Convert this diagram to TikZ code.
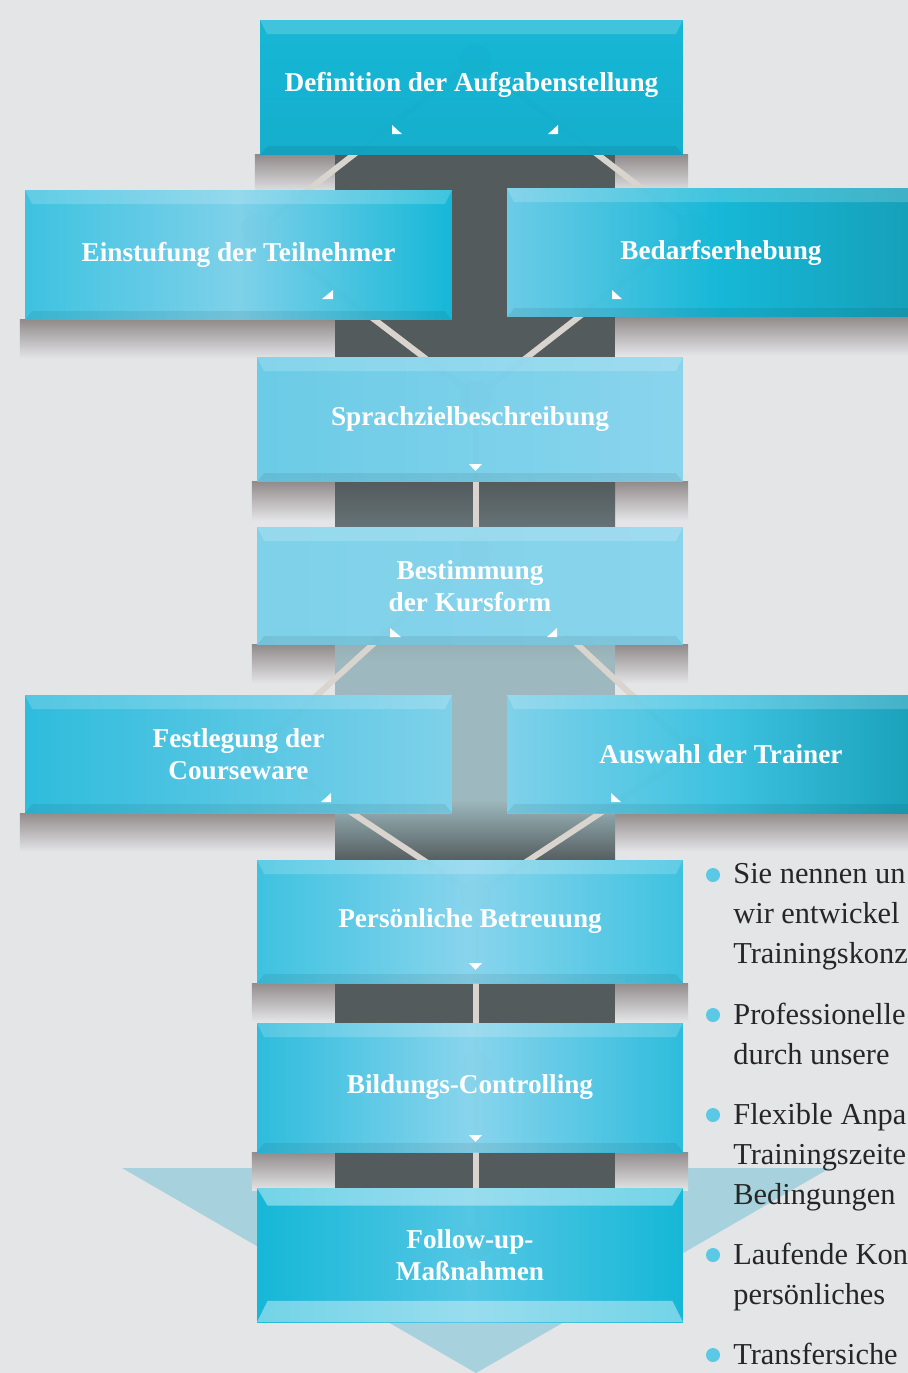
\documentclass[tikz,border=0pt]{standalone}
\usepackage{fontspec}
\setmainfont{Liberation Serif}
\usetikzlibrary{positioning, calc}

\definecolor{bgc}{HTML}{E4E5E7}
\definecolor{bandc}{HTML}{535B5D}
\definecolor{bandlt}{HTML}{9DB8BE}
\definecolor{shd}{HTML}{7E7575}
\definecolor{linec}{HTML}{DAD4CE}
\definecolor{tric}{HTML}{A7D2DD}
\definecolor{bulletc}{HTML}{5BC9E5}
\definecolor{textc}{HTML}{262626}
% box colours
\definecolor{cyantop}{HTML}{00B2D4}
\definecolor{cyanbot}{HTML}{00A9CB}
\definecolor{cyanmid}{HTML}{2CBFE0}
\definecolor{cyanpale}{HTML}{74CFEA}
\definecolor{cyanlight}{HTML}{80D3EE}
\definecolor{cyansky}{HTML}{5FC9E7}
\definecolor{cyandeep}{HTML}{00B3D6}
\definecolor{cyanstrong}{HTML}{1BB8DC}
\definecolor{cyansoft}{HTML}{45C4E4}
\definecolor{tealedge}{HTML}{0096B1}

\pgfdeclarelayer{background}
\pgfdeclarelayer{lines}
\pgfsetlayers{background,lines,main}

\tikzset{
  box/.style={rectangle, inner sep=0pt, outer sep=0pt, minimum width=8.52cm,
    text=white, align=center, font=\fontsize{15.5}{18.5}\selectfont\bfseries,
    fill opacity=0.9, text opacity=1,
    path picture={
      \fill[white, opacity=0.18] (path picture bounding box.north west) -- (path picture bounding box.north east)
        -- ([xshift=-4pt, yshift=-8pt]path picture bounding box.north east) -- ([xshift=4pt, yshift=-8pt]path picture bounding box.north west) -- cycle;
      \fill[black, opacity=0.07] (path picture bounding box.south west) -- (path picture bounding box.south east)
        -- ([xshift=-4pt, yshift=5pt]path picture bounding box.south east) -- ([xshift=4pt, yshift=5pt]path picture bounding box.south west) -- cycle;
    }},
  lastbox/.style={box,
    path picture={
      \fill[white, opacity=0.4] (path picture bounding box.north west) -- (path picture bounding box.north east)
        -- ([xshift=-6pt, yshift=-10pt]path picture bounding box.north east) -- ([xshift=6pt, yshift=-10pt]path picture bounding box.north west) -- cycle;
      \fill[white, opacity=0.4] (path picture bounding box.south west) -- (path picture bounding box.south east)
        -- ([xshift=-6pt, yshift=12pt]path picture bounding box.south east) -- ([xshift=6pt, yshift=12pt]path picture bounding box.south west) -- cycle;
    }},
  link/.style={draw=linec, line width=3.4pt},
  marker/.style={fill=white},
  bullet/.style={circle, fill=bulletc, minimum size=0.28cm, inner sep=0pt},
  item/.style={anchor=north west, inner sep=0pt, align=left, text=textc,
    font=\fontsize{17.3}{22.76}\selectfont},
}

\begin{document}
\begin{tikzpicture}[x=0.02cm, y=-0.02cm]
\useasboundingbox (0,0) rectangle (908,1373);
\begin{scope}
\clip (0,0) rectangle (908,1373);

% steps
\node[box, minimum width=8.46cm, minimum height=2.7cm, top color=cyantop, bottom color=cyanbot] (def) at (471.5,87.5) {\raisebox{6pt}{Definition der Aufgabenstellung}};
\node[box, minimum width=8.54cm, minimum height=2.6cm, left color=cyanmid, right color=cyandeep, middle color=cyanpale] (einst) at (238.5,255) {\raisebox{4pt}{Einstufung der Teilnehmer}};
\node[box, minimum width=8.56cm, minimum height=2.58cm, left color=cyansky, right color=tealedge, middle color=cyandeep] (bedarf) at (721,252.5) {\raisebox{3pt}{Bedarfserhebung}};
\node[box, minimum height=2.5cm, left color=cyansky, right color=cyanlight] (sprach) at (470,419.5) {\raisebox{3pt}{Sprachzielbeschreibung}};
\node[box, minimum height=2.36cm, left color=cyanpale, right color=cyanlight] (bestimm) at (470,586) {Bestimmung\\der Kursform};
\node[box, minimum width=8.54cm, minimum height=2.36cm, left color=cyanstrong, right color=cyanpale] (festleg) at (238.5,754) {Festlegung der\\Courseware};
\node[box, minimum width=8.56cm, minimum height=2.36cm, left color=cyanpale, right color=tealedge, middle color=cyanmid] (auswahl) at (721,754) {Auswahl der Trainer};
\node[box, minimum height=2.46cm, left color=cyanmid, right color=cyanmid, middle color=cyanlight] (persoen) at (470,921.5) {Persönliche Betreuung};
\node[box, minimum height=2.58cm, left color=cyanstrong, right color=cyanstrong, middle color=cyanlight] (bildung) at (470,1087.5) {Bildungs-Controlling};
\node[lastbox, minimum height=2.68cm, left color=cyandeep, right color=cyandeep, middle color=cyansoft] (follow) at (470,1255) {Follow-up-\\Maßnahmen};

% little arrow marks
\fill[marker] (392,125) -- (392,134) -- (402,134) -- cycle;
\fill[marker] (558,125) -- (558,134) -- (548,134) -- cycle;
\fill[marker] (333,290) -- (333,299) -- (322,299) -- cycle;
\fill[marker] (612,290) -- (612,299) -- (622,299) -- cycle;
\fill[marker] (469,464) -- (482,464) -- (475.5,471) -- cycle;
\fill[marker] (390,628) -- (390,637) -- (401,637) -- cycle;
\fill[marker] (557,628) -- (557,637) -- (547,637) -- cycle;
\fill[marker] (331,793) -- (331,802) -- (321,802) -- cycle;
\fill[marker] (611,793) -- (611,802) -- (621,802) -- cycle;
\fill[marker] (469,963) -- (482,963) -- (475.5,970) -- cycle;
\fill[marker] (469,1135) -- (482,1135) -- (475.5,1142) -- cycle;

% list
\node[bullet] (b1) at (713,875) {};
\node[item] (t1) at (733,863) {Sie nennen un\\wir entwickel\\Trainingskonz};
\node[bullet] (b2) at (713,1015) {};
\node[item] (t2) at (733,1003) {Professionelle\\durch unsere};
\node[bullet] (b3) at (713,1115) {};
\node[item] (t3) at (733,1103) {Flexible Anpa\\Trainingszeite\\Bedingungen};
\node[bullet] (b4) at (713,1255) {};
\node[item] (t4) at (733,1243) {Laufende Kon\\persönliches};
\node[bullet] (b5) at (713,1355) {};
\node[item] (t5) at (733,1343) {Transfersiche};
\end{scope}

% joints
\coordinate (jdef) at (475,60);
\coordinate (jein) at (257,230);
\coordinate (jbed) at (693,228);
\coordinate (jspr) at (476,397);
\coordinate (jbes) at (476,550);
\coordinate (jfes) at (257,750);
\coordinate (jaus) at (693,752);
\coordinate (jper) at (476,895);
\coordinate (jbil) at (476,1068);
\coordinate (jfol) at (476,1243);

\begin{pgfonlayer}{lines}
\draw[link] (jdef) -- (jein) -- (jspr) -- (jbed) -- (jdef);
\draw[link] (jspr) -- (jbes);
\draw[link] (jbes) -- (jfes) -- (jper) -- (jaus) -- (jbes);
\draw[link] (jper) -- (jbil) -- (jfol);
\foreach \j in {jdef,jein,jbed,jspr,jbes,jfes,jaus,jper,jbil,jfol}
  \fill[linec] (\j) circle[radius=0.32cm];
\end{pgfonlayer}

\begin{pgfonlayer}{background}
\fill[bgc] (0,0) rectangle (908,1373);
\fill[tric] (122,1168) -- (830,1168) -- (476,1373) -- cycle;
\foreach \b in {def,einst,bedarf,sprach,bestimm,festleg,auswahl,persoen,bildung}
  \shade[top color=shd!80!bgc, bottom color=bgc] ([xshift=-3pt]\b.south west) rectangle ([xshift=3pt, yshift=-22pt]\b.south east);
\fill[bandc] (335,150) rectangle (615,1195);
\shade[top color=bandc, bottom color=bandlt] (335,482) rectangle (615,660);
\fill[bandlt] (335,660) rectangle (615,800);
\shade[top color=bandlt, bottom color=bandc] (335,800) rectangle (615,862);
\foreach \b in {def,einst,bedarf,sprach,bestimm,festleg,auswahl,persoen,bildung,follow}
  \fill[bgc] (\b.south west) rectangle (\b.north east);
\end{pgfonlayer}
\end{tikzpicture}
\end{document}
